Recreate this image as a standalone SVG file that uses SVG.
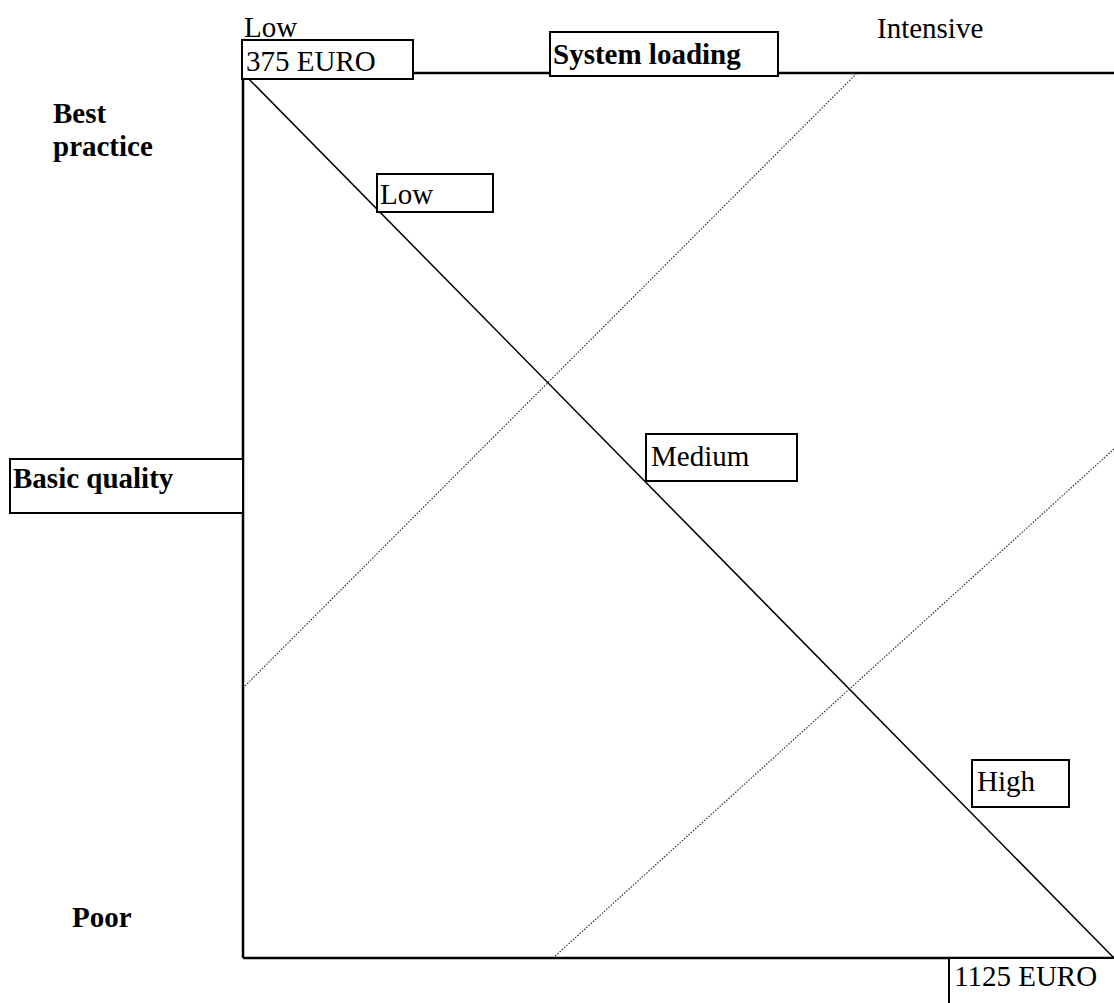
<svg xmlns="http://www.w3.org/2000/svg" width="1114" height="1003" viewBox="0 0 1114 1003">
  <style>
    text { font-family: "Liberation Serif", "Times New Roman", serif; font-size: 29px; fill: #000; }
    .b { font-weight: bold; }
    .box { fill: #fff; stroke: #000; stroke-width: 2; }
    .axis { stroke: #000; stroke-width: 2.5; fill: none; }
    .diag { stroke: #000; stroke-width: 1.5; fill: none; }
    .dot { stroke: #333; stroke-width: 1.2; stroke-dasharray: 1.5 1.5; fill: none; }
  </style>
  <rect width="1114" height="1003" fill="#fff"/>

  <!-- dotted guides, main diagonal and the three axis lines -->
  <g id="connectors">
    <line class="dot" x1="243" y1="688" x2="857" y2="73"/>
    <line class="dot" x1="553" y1="958" x2="1114" y2="449"/>
    <line class="diag" x1="243" y1="73" x2="1114" y2="958"/>
    <line class="axis" x1="243" y1="73" x2="1114" y2="73"/>
    <line class="axis" x1="243" y1="73" x2="243" y2="958"/>
    <line class="axis" x1="243" y1="958" x2="1114" y2="958"/>
  </g>

  <g id="label-low-top"><text x="244" y="37">Low</text></g>
  <g id="label-intensive"><text x="877" y="38">Intensive</text></g>
  <g id="box-375"><rect class="box" x="242" y="40" width="171" height="39"/><text x="246" y="71">375 EURO</text></g>
  <g id="box-system-loading"><rect class="box" x="550" y="32" width="228" height="44"/><text class="b" x="553" y="64">System loading</text></g>
  <g id="label-best-practice"><text class="b" x="53" y="123">Best</text><text class="b" x="53" y="156">practice</text></g>
  <g id="box-basic-quality"><rect class="box" x="10" y="459" width="233" height="54"/><text class="b" x="13" y="488">Basic quality</text></g>
  <g id="label-poor"><text class="b" x="72" y="927">Poor</text></g>
  <g id="box-low"><rect class="box" x="377" y="174" width="116" height="38"/><text x="380" y="204">Low</text></g>
  <g id="box-medium"><rect class="box" x="646" y="434" width="151" height="47"/><text x="651" y="466">Medium</text></g>
  <g id="box-high"><rect class="box" x="972" y="760" width="97" height="47"/><text x="977" y="791">High</text></g>
  <g id="box-1125"><rect class="box" x="949" y="958" width="175" height="60"/><text x="954" y="986">1125 EURO</text></g>
</svg>
